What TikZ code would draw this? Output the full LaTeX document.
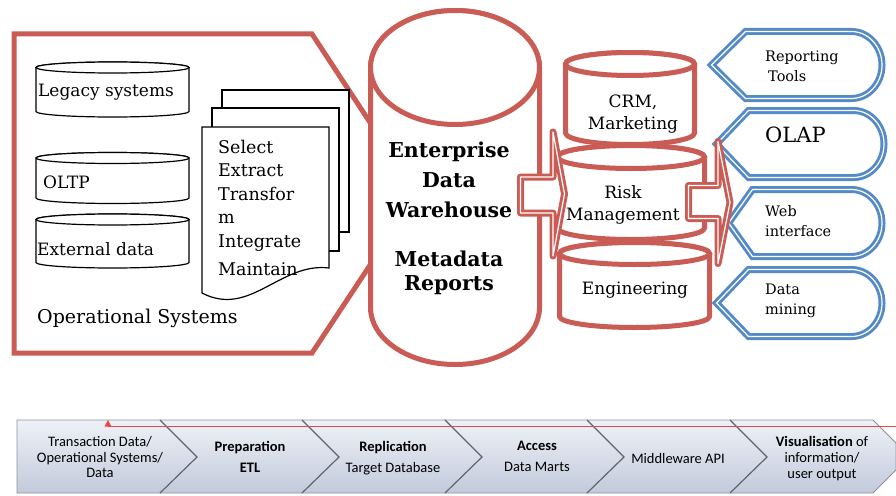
\documentclass[tikz,border=0pt]{standalone}
\usepackage{fontspec}
\setmainfont{DejaVu Serif}
\newfontfamily\barfont{Carlito}

\definecolor{dwred}{RGB}{202,92,86}
\definecolor{dwblue}{RGB}{84,139,199}
\definecolor{bartop}{RGB}{238,241,247}
\definecolor{barbot}{RGB}{194,202,219}
\definecolor{baredge}{RGB}{140,145,155}
\definecolor{bardiv}{RGB}{95,100,110}
\definecolor{markred}{RGB}{236,72,72}

\begin{document}
\begin{tikzpicture}[x=1pt,y=1pt]
        \tikzstyle{every node}+=[inner sep=0pt]
        \tikzstyle{redline}=[draw=dwred, line width=5pt, fill=white]
        \tikzstyle{blockarrow}=[draw=dwred, double=white, double distance=1.2pt, line width=2.9pt, line join=round, fill=white]
        \tikzstyle{viewbox}=[draw=dwblue, double=white, double distance=1.2pt, line width=2.9pt, fill=white]
        \tikzstyle{dbthin}=[draw=black, line width=1.2pt, fill=white]
        \tikzstyle{srctext}=[font=\fontsize{17}{20}\selectfont]
        \tikzstyle{marttext}=[font=\fontsize{17}{22}\selectfont, align=center]
        \tikzstyle{tooltext}=[font=\fontsize{14.5}{20}\selectfont, align=left, anchor=west]
        \tikzstyle{steptext}=[font=\barfont\fontsize{14.5}{21}\selectfont, align=center, anchor=north]
        \useasboundingbox (0,0) rectangle (896,-495);

        \draw [redline] (14,-34) -- (312,-34) -- (417,-194) -- (312,-353) -- (14,-353) -- cycle;
        \draw [dbthin] (36,-67.5) -- (36,-111.5) arc[start angle=180,end angle=360,x radius=76.5pt,y radius=5.5pt] -- (189,-67.5) arc[start angle=0,end angle=180,x radius=76.5pt,y radius=5.5pt] -- cycle;
        \draw [dbthin] (112.5,-67.5) ellipse[x radius=76.5pt,y radius=5.5pt];
        \draw [dbthin] (36,-158) -- (36,-198) arc[start angle=180,end angle=360,x radius=76.5pt,y radius=5.5pt] -- (189,-158) arc[start angle=0,end angle=180,x radius=76.5pt,y radius=5.5pt] -- cycle;
        \draw [dbthin] (112.5,-158) ellipse[x radius=76.5pt,y radius=5.5pt];
        \draw [dbthin] (36,-219.5) -- (36,-262.5) arc[start angle=180,end angle=360,x radius=76.5pt,y radius=5.5pt] -- (189,-219.5) arc[start angle=0,end angle=180,x radius=76.5pt,y radius=5.5pt] -- cycle;
        \draw [dbthin] (112.5,-219.5) ellipse[x radius=76.5pt,y radius=5.5pt];
        \node [srctext, anchor=base west] (legacy) at (38,-96) {Legacy systems};
        \node [srctext, anchor=base west] (oltp) at (43,-188) {OLTP};
        \node [srctext, anchor=base west] (external) at (37,-255) {External data};
        \draw [dbthin] (222,-90) rectangle (349,-232);
        \draw [dbthin] (212,-108) rectangle (339,-251);
        \draw [dbthin] (202,-127) -- (329,-127) -- (329,-268) .. controls (280,-262) and (250,-318) .. (202,-293) -- cycle;
        \node [font=\fontsize{17.5}{23.5}\selectfont, align=left, anchor=north west] (etl) at (218,-140) {Select\\Extract\\Transfor\\m\\Integrate\\[4.5pt]Maintain};
        \node [font=\fontsize{19}{22}\selectfont, anchor=base west] (opsys) at (37,-323) {Operational Systems};

        \draw [redline] (370.5,-67.5) -- (370.5,-307.5) arc[start angle=180,end angle=360,x radius=84.5pt,y radius=57pt] -- (539.5,-67.5) arc[start angle=0,end angle=180,x radius=84.5pt,y radius=57pt] -- cycle;
        \draw [redline] (455,-67.5) ellipse[x radius=84.5pt,y radius=57pt];
        \node [font=\bfseries\fontsize{20.5}{30}\selectfont, align=center, anchor=north] (edw) at (449,-142) {Enterprise\\Data\\Warehouse};
        \node [font=\bfseries\fontsize{20.5}{24}\selectfont, align=center, anchor=north] (meta) at (449,-251) {Metadata\\Reports};

        \draw [redline] (565.5,-64) -- (565.5,-133) arc[start angle=180,end angle=360,x radius=64.5pt,y radius=11.5pt] -- (694.5,-64) arc[start angle=0,end angle=180,x radius=64.5pt,y radius=11.5pt] -- cycle;
        \draw [redline] (630,-64) ellipse[x radius=64.5pt,y radius=11.5pt];
        \draw [redline] (557.5,-157) -- (557.5,-228) arc[start angle=180,end angle=360,x radius=73.5pt,y radius=11.5pt] -- (704.5,-157) arc[start angle=0,end angle=180,x radius=73.5pt,y radius=11.5pt] -- cycle;
        \draw [redline] (631,-157) ellipse[x radius=73.5pt,y radius=11.5pt];
        \draw [redline] (559.5,-253.5) -- (559.5,-316.5) arc[start angle=180,end angle=360,x radius=75pt,y radius=11pt] -- (709.5,-253.5) arc[start angle=0,end angle=180,x radius=75pt,y radius=11pt] -- cycle;
        \draw [redline] (634.5,-253.5) ellipse[x radius=75pt,y radius=11pt];
        \node [marttext] (crm) at (633,-114.5) {CRM,\\Marketing};
        \node [marttext] (risk) at (623,-205) {Risk\\Management};
        \node [marttext] (eng) at (635,-290.5) {Engineering};

        \draw [blockarrow] (520.5,-177) -- (553,-177) -- (553,-132) -- (564.5,-194) -- (553,-256) -- (553,-213) -- (520.5,-213) -- cycle;

        \draw [viewbox] (711.5,-65) -- (745.5,-31.5) -- (851.5,-31.5) arc[start angle=90,end angle=-90,x radius=30.5pt,y radius=33.5pt] -- (745.5,-98.5) -- cycle;
        \draw [viewbox] (716.5,-144) -- (748.5,-110.5) -- (853.5,-110.5) arc[start angle=90,end angle=-90,x radius=30.5pt,y radius=33.5pt] -- (748.5,-177.5) -- cycle;
        \draw [viewbox] (728.5,-223) -- (752.5,-189.5) -- (851.5,-189.5) arc[start angle=90,end angle=-90,x radius=30.5pt,y radius=33.5pt] -- (752.5,-256.5) -- cycle;
        \draw [viewbox] (716.5,-303) -- (748.5,-269.5) -- (851.5,-269.5) arc[start angle=90,end angle=-90,x radius=30.5pt,y radius=33.5pt] -- (748.5,-336.5) -- cycle;
        \node [tooltext] (reporting) at (765,-66) {Reporting\\\hspace{3pt}Tools};
        \node [tooltext, font=\fontsize{21}{24}\selectfont] (olap) at (765,-135) {OLAP};
        \node [tooltext] (web) at (765,-221) {Web\\interface};
        \node [tooltext] (mining) at (765,-301) {Data\\mining};

        \draw [blockarrow] (688.5,-185.5) -- (718,-185.5) -- (718,-141.5) -- (730,-202.5) -- (718,-263.5) -- (718,-218.5) -- (688.5,-218.5) -- cycle;

        \shade [top color=bartop, bottom color=barbot, draw=baredge, line width=0.8pt] (17,-420) -- (873,-420) -- (896,-443) -- (896,-470) -- (873,-493) -- (17,-493) -- cycle;
        \draw [bardiv, line width=1.2pt] (160,-420) -- (197,-457) -- (160,-493);
        \draw [bardiv, line width=1.2pt] (302,-420) -- (339,-457) -- (302,-493);
        \draw [bardiv, line width=1.2pt] (445,-420) -- (482,-457) -- (445,-493);
        \draw [bardiv, line width=1.2pt] (587,-420) -- (624,-457) -- (587,-493);
        \draw [bardiv, line width=1.2pt] (730,-420) -- (767,-457) -- (730,-493);
        \draw [markred, line width=0.6pt] (108,-426) -- (896,-426);
        \fill [markred] (104.5,-426.5) -- (111.5,-426.5) -- (108,-420) -- cycle;
        \node [steptext, font=\barfont\fontsize{14.5}{15.5}\selectfont] (trans) at (100,-436.6) {Transaction Data/\\Operational Systems/\\Data};
        \node [steptext] (prep) at (250,-440.6) {\bfseries Preparation\\\bfseries ETL};
        \node [steptext] (repl) at (393,-440.6) {\bfseries Replication\\Target Database};
        \node [steptext] (access) at (537,-440.6) {\bfseries Access\\Data Marts};
        \node [font=\barfont\fontsize{14.5}{16}\selectfont, anchor=base] (api) at (678,-463) {Middleware API};
        \node [steptext, font=\barfont\fontsize{14.5}{16}\selectfont] (visual) at (822,-435.6) {\textbf{Visualisation} of\\information/\\user output};
        \end{tikzpicture}
\end{document}
